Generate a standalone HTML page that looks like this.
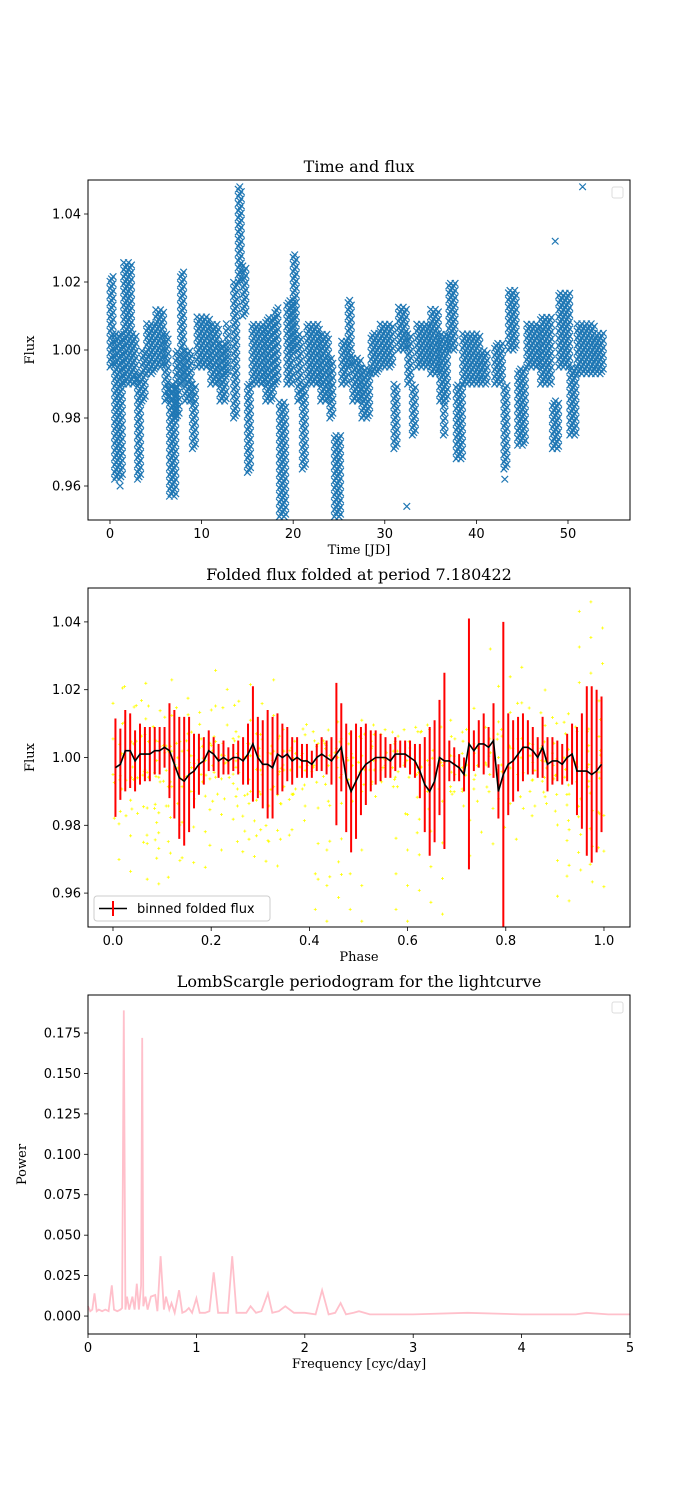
<!DOCTYPE html>
<html><head><meta charset="utf-8"><style>
body{margin:0;background:#fff;}
svg text{font-family:"DejaVu Sans","Liberation Sans",sans-serif;font-size:13px;fill:#000;}
svg text.ser{font-family:"DejaVu Serif","Liberation Serif",serif;}
</style></head><body>
<svg id="fig" xmlns="http://www.w3.org/2000/svg" width="700" height="1500" viewBox="0 0 700 1500"></svg>
<script>
const segStart=[0,0.5,1.5,2.5,3,3.5,4,5,6,6.5,7.2,7.7,8.2,9,9.5,11,12,12.7,13.5,14,14.5,15,15.5,17,18,18.5,19.3,20,20.5,21,21.5,23,24,24.5,25.3,26,26.5,27.5,28.5,29.5,31,31.5,32.5,33,33.5,35,36,36.4,37,37.8,38.5,40.5,42,43,43.5,44.5,45.5,47,48.3,49,50.2,51,53];
const segEnd=  [0.5,1.5,2.5,3,3.5,4,5,6,6.5,7.2,7.7,8.2,9,9.5,11,12,12.7,13,14,14.5,15,15.5,17,18,18.5,19.3,20,20.5,21,21.5,23,24,24.5,25.3,26,26.5,27.5,28.5,29.5,31,31.5,32.5,33,33.5,35,36,37,36.7,37.8,38.5,40.5,41.3,43,43.5,44.5,45.5,47,48.3,49,50.2,51,53,54];
const segLo=[0.995,0.962,0.99,0.99,0.962,0.985,0.993,0.995,0.985,0.957,0.98,0.99,0.985,0.971,0.995,0.99,0.985,0.993,0.98,1.02,1.01,0.964,0.99,0.985,0.99,0.951,0.99,1.0,0.985,0.965,0.99,0.985,0.98,0.951,0.99,0.995,0.985,0.98,0.993,0.995,0.971,1.0,0.99,0.975,0.995,0.993,0.985,0.975,1.0,0.968,0.99,0.99,0.99,0.965,1.0,0.972,0.995,0.99,0.971,0.995,0.975,0.993,0.993];
const segHi=[1.022,1.005,1.026,1.005,0.993,1.0,1.008,1.012,1.005,0.99,1.0,1.023,1.0,0.99,1.01,1.008,1.002,1.008,1.02,1.048,1.025,0.99,1.008,1.01,1.013,0.985,1.015,1.028,1.005,0.99,1.008,1.005,0.998,0.975,1.003,1.015,0.998,0.995,1.005,1.008,0.99,1.013,1.005,0.99,1.008,1.012,1.005,0.985,1.02,0.99,1.005,1.0,1.002,0.99,1.018,0.995,1.008,1.01,0.985,1.017,0.995,1.008,1.005];
const outT=[51.6,48.6,32.4,43.1,1.1];
const outF=[1.048,1.032,0.954,0.962,0.960];
const period=7.180422;
const binMean=[0.997,0.998,1.002,1.002,0.999,1.001,1.001,1.001,1.002,1.002,
1.003,1.002,0.998,0.994,0.993,0.995,0.996,0.998,0.999,1.002,
1.001,0.999,1.000,0.999,1.000,1.000,0.999,1.001,1.004,1.000,
0.998,0.998,0.997,1.001,1.000,1.001,0.999,1.000,0.999,0.999,
0.998,1.000,1.001,1.000,0.999,1.001,1.003,0.994,0.990,0.993,
0.996,0.998,0.999,1.000,1.000,1.000,0.999,1.001,1.001,1.001,
1.000,0.999,0.996,0.992,0.990,0.993,1.000,0.999,0.999,0.998,
0.997,0.995,1.004,1.002,1.004,1.004,1.003,1.005,0.990,0.995,
0.998,0.999,1.001,1.003,1.003,1.002,1.000,1.003,0.998,0.999,
0.999,0.998,1.000,1.001,0.996,0.996,0.996,0.995,0.996,0.998];
const binErr=[.0145,.0105,.012,.011,.009,.009,.008,.008,.007,.007,
.006,.014,.016,.018,.019,.017,.011,.009,.007,.006,
.005,.005,.005,.004,.004,.005,.007,.009,.017,.012,
.013,.016,.015,.012,.010,.008,.007,.006,.005,.005,
.004,.004,.005,.005,.007,.021,.013,.016,.018,.017,
.013,.012,.009,.008,.007,.006,.005,.005,.004,.004,
.005,.005,.008,.014,.019,.018,.017,.026,.006,.005,
.004,.005,.037,.006,.007,.009,.006,.011,.008,.045,
.015,.012,.011,.010,.008,.007,.006,.009,.008,.007,
.006,.006,.007,.009,.013,.017,.025,.026,.024,.020];
const freq=[0,0.02,0.04,0.06,0.08,0.1,0.13,0.16,0.19,0.22,0.24,0.27,0.3,0.315,0.33,0.345,0.36,0.38,0.41,0.43,0.45,0.47,0.49,0.5,0.51,0.53,0.55,0.58,0.62,0.64,0.67,0.7,0.72,0.75,0.77,0.8,0.84,0.87,0.9,0.93,0.96,1.0,1.03,1.08,1.12,1.16,1.2,1.25,1.29,1.33,1.37,1.42,1.46,1.5,1.55,1.6,1.66,1.7,1.76,1.82,1.9,2.0,2.1,2.16,2.22,2.28,2.33,2.38,2.45,2.5,2.6,3.0,3.5,4.0,4.5,4.6,4.8,5.0];
const power=[0.006,0.003,0.004,0.014,0.003,0.004,0.003,0.004,0.003,0.019,0.004,0.003,0.004,0.005,0.189,0.004,0.012,0.004,0.012,0.004,0.02,0.004,0.019,0.172,0.006,0.012,0.004,0.012,0.013,0.003,0.037,0.004,0.012,0.004,0.008,0.002,0.016,0.002,0.003,0.005,0.002,0.011,0.002,0.002,0.003,0.027,0.002,0.002,0.002,0.037,0.002,0.002,0.002,0.006,0.002,0.003,0.014,0.002,0.003,0.006,0.002,0.002,0.001,0.016,0.001,0.002,0.008,0.001,0.002,0.003,0.001,0.001,0.002,0.001,0.001,0.002,0.001,0.001];
const t1Ticks=[0,10,20,30,40,50];
const f1Ticks=[0.96,0.98,1.00,1.02,1.04];
const phTicks=[0.0,0.2,0.4,0.6,0.8,1.0];
const frTicks=[0,1,2,3,4,5];
const pwTicks=[0.000,0.025,0.050,0.075,0.100,0.125,0.150,0.175];

const NS="http://www.w3.org/2000/svg";
const svg=document.getElementById('fig');
function mk(tag,attrs,parent){const e=document.createElementNS(NS,tag);for(const k in attrs)e.setAttribute(k,attrs[k]);(parent||svg).appendChild(e);return e;}
function lin(d0,d1,r0,r1){return v=>r0+(v-d0)/(d1-d0)*(r1-r0);}
const L=88,R=630;
function axes(name,top,bot,xs,ys,xt,yt,xfmt,yfmt,title,xl,yl,ylx){
  const g=mk('g',{});
  
  
  const xa=mk('g',{},g);
  
  
  xt.forEach(v=>{const x=xs(v);mk('line',{x1:x,x2:x,y1:bot,y2:bot+4,stroke:'#000','stroke-width':0.8},xa);
    const t=mk('text',{x:x,y:bot+18,'text-anchor':'middle'},xa);t.textContent=xfmt(v);});
  const ya=mk('g',{},g);
  
  
  yt.forEach(v=>{const y=ys(v);mk('line',{x1:L-4,x2:L,y1:y,y2:y,stroke:'#000','stroke-width':0.8},ya);
    const t=mk('text',{x:L-7,y:y+4.5,'text-anchor':'end'},ya);t.textContent=yfmt(v);});
  const tt=mk('text',{x:(L+R)/2,y:top-8,'text-anchor':'middle','class':'ser'},g);tt.textContent=title;tt.style.fontSize='16px';
  
  
  const xlab=mk('text',{x:(L+R)/2,y:bot+34,'text-anchor':'middle','class':'ser'},g);xlab.textContent=xl;
  
  
  const cy=(top+bot)/2;
  const ylab=mk('text',{x:ylx,y:cy,'text-anchor':'middle','class':'ser',transform:`rotate(-90 ${ylx} ${cy})`},g);ylab.textContent=yl;
  
  
  return g;
}
function frame(top,bot){mk('rect',{x:L,y:top,width:R-L,height:bot-top,fill:'none',stroke:'#000','stroke-width':1});}
function emptyLegend(name,top){const r=mk('rect',{x:R-18,y:top+7,width:11,height:11,rx:2,fill:'#fff',stroke:'#ddd','stroke-width':1});
  
  }

// Plot 1
const T1=180,B1=520;
const x1=lin(-2.4,56.77,L,R), y1=lin(0.95,1.05,B1,T1);
axes('lightcurve-plot',T1,B1,x1,y1,t1Ticks,f1Ticks,v=>String(v),v=>v.toFixed(2),'Time and flux','Time [JD]','Flux',34);
let pts=[];
for(let i=0;i<segStart.length;i++){
  let col=0;
  for(let t=segStart[i];t<=segEnd[i]+1e-9;t+=0.17,col++){
    const off=(col%3)*0.0007;
    for(let f=segLo[i]+off;f<=segHi[i]+1e-9;f+=0.0021)pts.push([t,f]);
  }
}
for(let i=0;i<outT.length;i++)pts.push([outT[i],outF[i]]);
let d='';
pts.forEach(p=>{const x=x1(p[0]),y=y1(p[1]);if(y<T1-3||y>B1+3)return;d+=`M${(x-3.3).toFixed(1)} ${(y-3.3).toFixed(1)}l6.6 6.6M${(x-3.3).toFixed(1)} ${(y+3.3).toFixed(1)}l6.6 -6.6`;});
const sc=mk('path',{d:d,stroke:'#1f77b4','stroke-width':1.2,fill:'none'});


frame(T1,B1);emptyLegend('empty-legend-top',T1);

// Plot 2
const T2=588,B2=927;
const x2=lin(-0.0509,1.053,L,R), y2=lin(0.95,1.05,B2,T2);
axes('folded-plot',T2,B2,x2,y2,phTicks,f1Ticks,v=>v.toFixed(1),v=>v.toFixed(2),'Folded flux folded at period 7.180422','Phase','Flux',34);
let dy='';
pts.forEach((p,i)=>{if(i%5)return;const ph=((p[0]%period)+period)%period/period;const x=x2(ph),y=y2(p[1]);if(y<T2||y>B2)return;dy+=`M${(x-1.5).toFixed(1)} ${y.toFixed(1)}h3M${x.toFixed(1)} ${(y-1.5).toFixed(1)}v3`;});
const ys=mk('path',{d:dy,stroke:'#ffff00','stroke-width':0.8,fill:'none'});


const eg=mk('g',{});


let lp='';
binMean.forEach((m,i)=>{const ph=0.005+i*0.01;const x=x2(ph);
  const ya=Math.max(T2,y2(m+binErr[i])),yb=Math.min(B2,y2(m-binErr[i]));
  mk('line',{x1:x,x2:x,y1:ya,y2:yb,stroke:'#ff0000','stroke-width':2},eg);
  lp+=(i?'L':'M')+x.toFixed(1)+' '+y2(m).toFixed(1);});
const ml=mk('path',{d:lp,stroke:'#000','stroke-width':1.6,fill:'none'});


frame(T2,B2);
const lg=mk('g',{});


mk('rect',{x:94,y:896,width:176,height:25,rx:3,fill:'#fff',stroke:'#ccc','stroke-width':1},lg);
mk('line',{x1:99,x2:127,y1:908.5,y2:908.5,stroke:'#000','stroke-width':1.6},lg);
mk('line',{x1:113,x2:113,y1:901,y2:916,stroke:'#ff0000','stroke-width':2},lg);
const lt=mk('text',{x:137,y:913},lg);lt.textContent='binned folded flux';

// Plot 3
const T3=995,B3=1334;
const x3=lin(0,5,L,R), y3=lin(-0.0111,0.1985,B3,T3);
axes('periodogram-plot',T3,B3,x3,y3,frTicks,pwTicks,v=>String(v),v=>v.toFixed(3),'LombScargle periodogram for the lightcurve','Frequency [cyc/day]','Power',26);
let pd='';
freq.forEach((f,i)=>{pd+=(i?'L':'M')+x3(f).toFixed(1)+' '+y3(power[i]).toFixed(1);});
const pl=mk('path',{d:pd,stroke:'#ffc0cb','stroke-width':1.8,fill:'none','stroke-linejoin':'miter'});


frame(T3,B3);emptyLegend('empty-legend-bottom',T3);
</script>
</body></html>
